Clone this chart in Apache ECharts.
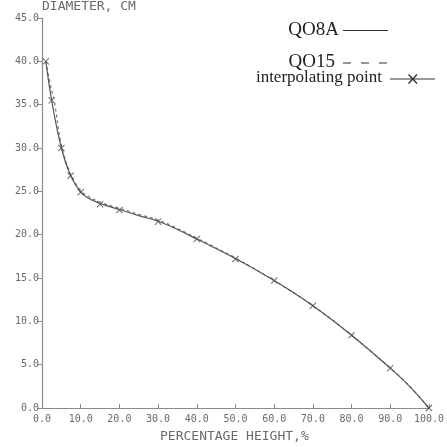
<!DOCTYPE html>
<html>
<head>
<meta charset="utf-8">
<script src="https://cdn.jsdelivr.net/npm/echarts@6/dist/echarts.min.js"></script>
<style>
html,body{margin:0;padding:0;background:#fff;}
#wrap{position:relative;width:447px;height:447px;}
#main{width:447px;height:447px;}
#key{position:absolute;left:0;top:0;width:447px;height:447px;pointer-events:none;}
#key text{font-family:"Liberation Serif","DejaVu Serif",serif;fill:#222;}
</style>
</head>
<body>
<div id="wrap">
<div id="main"></div>
<svg id="key" width="447" height="447" xmlns="http://www.w3.org/2000/svg"></svg>
</div>
<script>
// Percentage height (x) and diameter in cm (y)
var interpHeights = [1, 2.5, 5, 7.4, 10, 15, 20, 30, 40, 50, 60, 70, 80, 90, 100];
var interpDiam    = [40, 35.5, 30, 26.8, 24.9, 23.5, 22.85, 21.5, 19.5, 17.2, 14.7, 11.8, 8.4, 4.6, 0];

var qo8aHeights = [1, 2.5, 5, 7.4, 10, 12, 15, 20, 25, 30, 35, 40, 50, 60, 70, 80, 90, 95, 100];
var qo8aDiam    = [40, 35.5, 30, 26.8, 24.9, 24.2, 23.6, 22.9, 22.2, 21.55, 20.6, 19.5, 17.25, 14.7, 11.8, 8.4, 4.6, 2.5, 0];

var qo15Heights = [1, 2.0, 3.2, 5, 7.4, 10, 12, 15, 20, 25, 30, 35, 40, 50, 60, 70, 80, 90, 95, 100];
var qo15Diam    = [40, 37.6, 35.3, 30.4, 27.0, 25.1, 24.4, 23.75, 23.05, 22.35, 21.7, 20.7, 19.6, 17.3, 14.7, 11.8, 8.4, 4.6, 2.5, 0];

var xTitle = 'PERCENTAGE HEIGHT,%';
var yTitle = 'DIAMETER, CM';
var keyNames = ['QO8A', 'QO15', 'interpolating point'];

function zip(a, b) { return a.map(function (v, i) { return [v, b[i]]; }); }

var crossPath = 'path://M0,1L1,0L5,4L9,0L10,1L6,5L10,9L9,10L5,6L1,10L0,9L4,5Z';
var axisGrey = '#8a8a8a';
var textGrey = '#6a6a6a';
var curveCol = '#555555';
var mono = 'DejaVu Sans Mono';

var chart = echarts.init(document.getElementById('main'));
chart.setOption({
  animation: false,
  backgroundColor: '#ffffff',
  grid: {left: 42, right: 15, top: 18, bottom: 39},
  xAxis: {
    type: 'value', min: 0, max: 100, interval: 10,
    axisLine: {show: true, lineStyle: {color: axisGrey, width: 1.2}},
    axisTick: {show: true, inside: true, length: 4, lineStyle: {color: axisGrey}},
    axisLabel: {fontFamily: mono, fontSize: 10, color: textGrey, margin: 6,
      formatter: function (v) { return v.toFixed(1); }},
    splitLine: {show: false}
  },
  yAxis: {
    type: 'value', min: 0, max: 45, interval: 5,
    name: yTitle, nameLocation: 'end', nameGap: 3,
    nameTextStyle: {fontFamily: mono, fontSize: 13, color: textGrey, align: 'left', verticalAlign: 'middle'},
    axisLine: {show: true, lineStyle: {color: axisGrey, width: 1.2}},
    axisTick: {show: true, inside: false, length: 5, lineStyle: {color: axisGrey}},
    axisLabel: {fontFamily: mono, fontSize: 10, color: textGrey, margin: 3,
      formatter: function (v) { return v.toFixed(1); }},
    splitLine: {show: false}
  },
  series: [
    {name: 'QO15', type: 'line', smooth: 0.4, symbol: 'none', data: zip(qo15Heights, qo15Diam),
      lineStyle: {color: '#777777', width: 1.2, type: [3, 3]}},
    {name: 'QO8A', type: 'line', smooth: 0.4, symbol: 'none', data: zip(qo8aHeights, qo8aDiam),
      lineStyle: {color: curveCol, width: 1.2}},
    {name: 'interpolating point', type: 'scatter', symbol: crossPath, symbolSize: 7,
      data: zip(interpHeights, interpDiam), itemStyle: {color: '#444444'}}
  ],
  graphic: [
    {type: 'text', x: 160, y: 430,
      style: {text: xTitle, fontSize: 13, fontFamily: mono, fill: textGrey}}
  ]
});

// Key (legend) drawn as SVG text and lines over the chart
var NS = 'http://www.w3.org/2000/svg';
var svg = document.getElementById('key');
function el(tag, attrs, txt) {
  var e = document.createElementNS(NS, tag);
  for (var k in attrs) e.setAttribute(k, attrs[k]);
  if (txt) e.textContent = txt;
  svg.appendChild(e);
  return e;
}
el('text', {x: 339, y: 35, 'font-size': 19, 'text-anchor': 'end'}, keyNames[0]);
el('line', {x1: 343, y1: 30.5, x2: 388, y2: 30.5, stroke: '#333', 'stroke-width': 1.2});
el('text', {x: 335, y: 66.5, 'font-size': 19, 'text-anchor': 'end'}, keyNames[1]);
el('line', {x1: 343, y1: 63, x2: 388, y2: 63, stroke: '#333', 'stroke-width': 1.2, 'stroke-dasharray': '8 10'});
el('text', {x: 382, y: 81.7, 'font-size': 17, 'text-anchor': 'end'}, keyNames[2]);
el('line', {x1: 390, y1: 79, x2: 435, y2: 79, stroke: '#333', 'stroke-width': 1.2});
el('line', {x1: 408.5, y1: 74.5, x2: 417, y2: 83.5, stroke: '#333', 'stroke-width': 1.4});
el('line', {x1: 417, y1: 74.5, x2: 408.5, y2: 83.5, stroke: '#333', 'stroke-width': 1.4});
</script>
</body>
</html>
